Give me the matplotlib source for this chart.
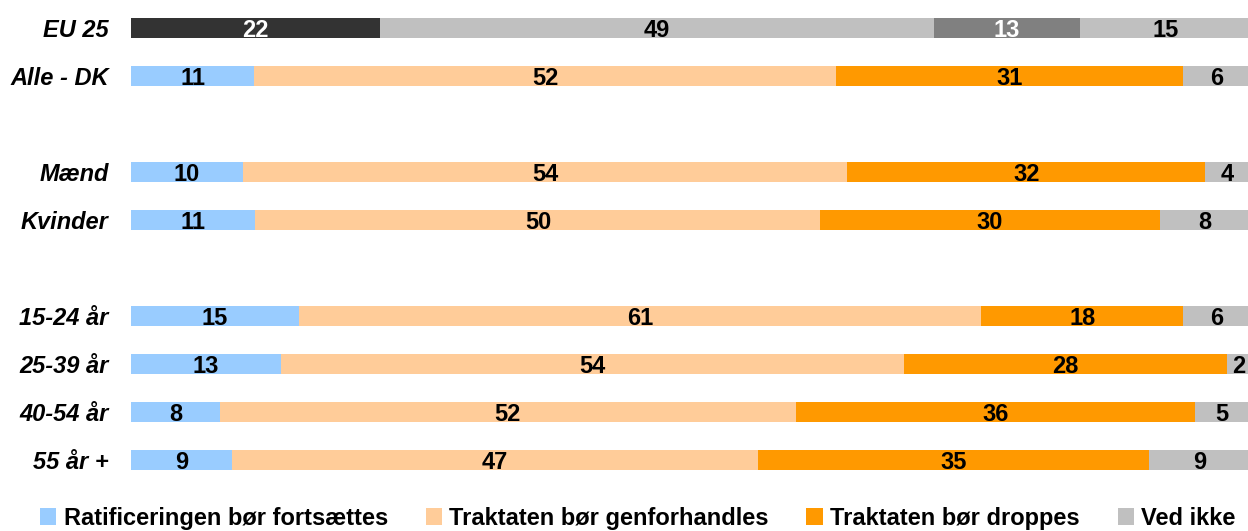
import numpy as np
import matplotlib
matplotlib.use("Agg")
import matplotlib.pyplot as plt
from matplotlib.patches import Patch

plt.rcParams['font.family'] = ['Liberation Sans', 'DejaVu Sans']

# rows from top to bottom, None marks an empty spacer row
rows = ["EU 25", "Alle - DK", None, "Mænd", "Kvinder", None,
        "15-24 år", "25-39 år", "40-54 år", "55 år +"]

ratificering = [22, 11, None, 10, 11, None, 15, 13, 8, 9]
genforhandles = [49, 52, None, 54, 50, None, 61, 54, 52, 47]
droppes = [13, 31, None, 32, 30, None, 18, 28, 36, 35]
ved_ikke = [15, 6, None, 4, 8, None, 6, 2, 5, 9]

series_names = ["Ratificeringen bør fortsættes", "Traktaten bør genforhandles",
                "Traktaten bør droppes", "Ved ikke"]
colors = ["#99CCFF", "#FFCC99", "#FF9900", "#C0C0C0"]
eu_colors = ["#333333", "#C0C0C0", "#808080", "#C0C0C0"]
eu_text = ["white", "black", "white", "black"]

W, H = 1248, 531
fig = plt.figure(figsize=(W / 100, H / 100), dpi=100)
ax = fig.add_axes([131 / W, 1 - 484 / H, (1250 - 131) / W, 480 / H])

series = [ratificering, genforhandles, droppes, ved_ikke]
FS = 17
for i, name in enumerate(rows):
    if name is None:
        continue
    vals = np.array([s[i] for s in series], dtype=float)
    pct = vals / vals.sum() * 100  # 100% stacked
    left = 0.0
    for k, (v, p) in enumerate(zip(vals, pct)):
        if i == 0:
            c, tc = eu_colors[k], eu_text[k]
        else:
            c, tc = colors[k], "black"
        ax.barh(i, p, left=left, height=0.42, color=c, edgecolor="none")
        ax.text(left + p / 2, i, f"{int(v)}", ha="center", va="center_baseline",
                fontsize=FS, fontweight="bold", color=tc)
        left += p

ax.set_xlim(0, 100)
ax.set_ylim(9.5, -0.5)
ticks = [i for i, r in enumerate(rows) if r is not None]
ax.set_yticks(ticks)
ax.set_yticklabels([rows[i] for i in ticks], fontsize=FS, fontweight="bold",
                   fontstyle="italic")
ax.tick_params(axis="y", length=0, pad=16)
ax.set_xticks([])
for s in ax.spines.values():
    s.set_visible(False)

handles = [Patch(facecolor=c, edgecolor="none") for c in colors]
fig.legend(handles, series_names, loc="center", bbox_to_anchor=(0.511, 0.024),
           ncol=4, frameon=False, prop={"size": FS, "weight": "bold"},
           handlelength=0.7, handleheight=0.7, handletextpad=0.3,
           columnspacing=1.6, borderpad=0, borderaxespad=0)

fig.savefig("out.png", dpi=100)
